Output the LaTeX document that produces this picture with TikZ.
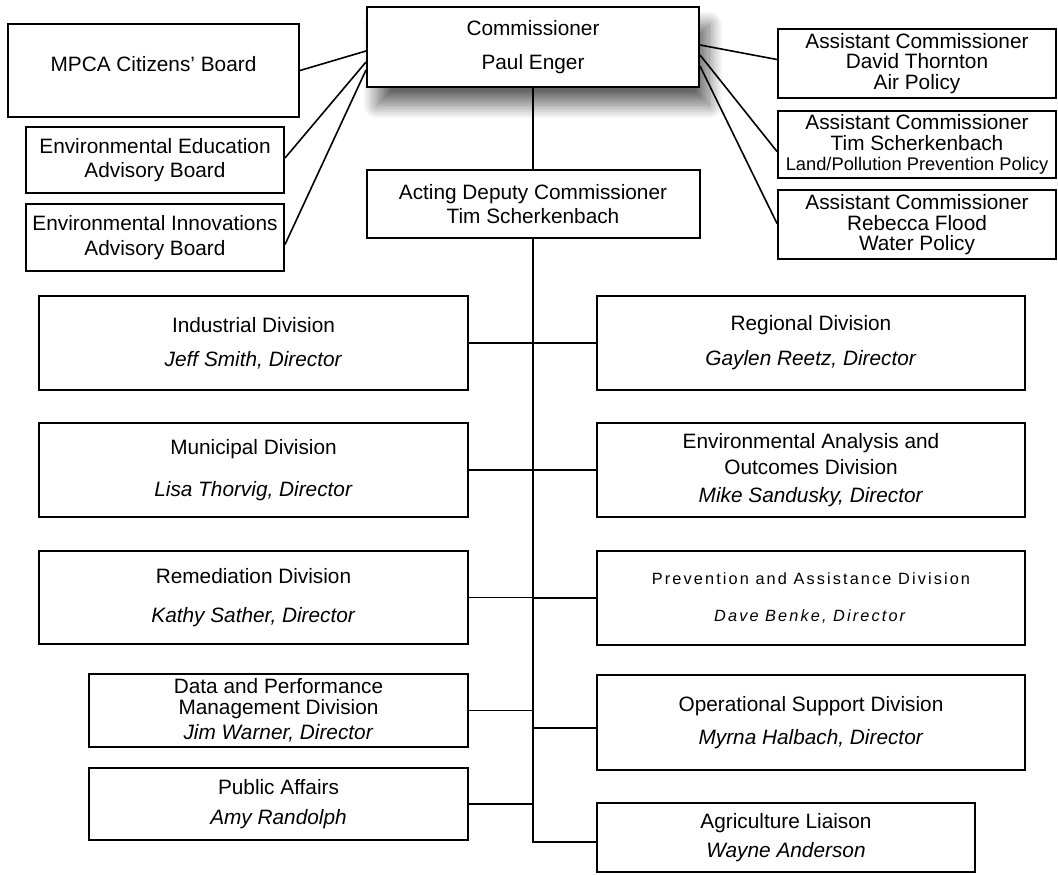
\documentclass[tikz,border=0pt]{standalone}
\usepackage{fontspec}
\setmainfont{Liberation Sans}
\newfontfamily\widefont[LetterSpace=13]{Liberation Sans}
\usepackage{tikz}
\usetikzlibrary{shadows.blur}
\tikzstyle{orgbox} = [draw=black, line width=1pt, fill=white, rectangle,
    inner sep=1pt, align=center, font=\fontsize{10.4}{11}\selectfont]
\tikzstyle{headbox} = [orgbox, blur shadow={shadow xshift=5pt,
    shadow yshift=-9pt, shadow blur radius=7pt, shadow blur steps=24,
    shadow opacity=60}]
\tikzstyle{orgline} = [draw=black, line width=0.8pt]

\begin{document}
\begin{tikzpicture}[x=0.5pt,y=-0.5pt]
    \useasboundingbox (0,0) rectangle (1058,874);
    % top
    \node[headbox, minimum width=166pt, minimum height=40pt] (comm) at (533,47)
        {Commissioner\\[6.15pt]Paul Enger};
    \node[orgbox, minimum width=166.5pt, minimum height=34pt] (acting) at (533,204)
        {Acting Deputy Commissioner\\[0.9pt]Tim Scherkenbach};
    % boards
    \node[orgbox, minimum width=145.5pt, minimum height=46.5pt,
        text height=7.6pt, text depth=6.4pt] (mpca) at (153.5,70.5)
        {MPCA Citizens' Board};
    \node[orgbox, minimum width=129pt, minimum height=33pt] (edu) at (155,160)
        {Environmental Education\\[1pt]Advisory Board};
    \node[orgbox, minimum width=129pt, minimum height=33.5pt] (innov) at (155,237.5)
        {Environmental Innovations\\[1.2pt]Advisory Board};
    % assistant commissioners
    \node[orgbox, minimum width=139pt, minimum height=34.5pt] (air) at (917,63.5)
        {Assistant Commissioner\\[-0.65pt]David Thornton\\[-0.5pt]Air Policy};
    \node[orgbox, minimum width=139pt, minimum height=33.5pt] (land) at (917,144.5)
        {Assistant Commissioner\\[-0.15pt]Tim Scherkenbach\\[-1pt]{\fontsize{9.15}{11}\selectfont Land/Pollution Prevention Policy}};
    \node[orgbox, minimum width=139pt, minimum height=34.5pt] (water) at (917,224.5)
        {Assistant Commissioner\\[-0.65pt]Rebecca Flood\\[-1pt]Water Policy};
    % left divisions
    \node[orgbox, minimum width=214.5pt, minimum height=47pt] (ind) at (253.5,343)
        {Industrial Division\\[6.2pt]\textit{Jeff Smith, Director}};
    \node[orgbox, minimum width=214.5pt, minimum height=47pt] (muni) at (253.5,470)
        {Municipal Division\\[9.85pt]\textit{Lisa Thorvig, Director}};
    \node[orgbox, minimum width=214.5pt, minimum height=46.5pt] (remed) at (253.5,597.5)
        {Remediation Division\\[8.15pt]\textit{Kathy Sather, Director}};
    \node[orgbox, minimum width=189.5pt, minimum height=36.5pt] (data) at (278.5,710.5)
        {Data and Performance\\[-0.65pt]Management Division\\[1.65pt]\textit{Jim Warner, Director}};
    \node[orgbox, minimum width=189.5pt, minimum height=36pt] (public) at (278.5,804)
        {Public Affairs\\[3.65pt]\textit{Amy Randolph}};
    % right divisions
    \node[orgbox, minimum width=214pt, minimum height=47pt] (reg) at (811,343)
        {Regional Division\\[6.5pt]\textit{Gaylen Reetz, Director}};
    \node[orgbox, minimum width=214pt, minimum height=47pt] (envan) at (811,470)
        {Environmental Analysis and\\[1.85pt]Outcomes Division\\[3.15pt]\textit{Mike Sandusky, Director}};
    \node[orgbox, minimum width=214pt, minimum height=47pt,
        font=\widefont\fontsize{8.15}{11}\selectfont] (prev) at (811,598)
        {Prevention and Assistance Division\\[7.5pt]\textit{Dave Benke, Director}};
    \node[orgbox, minimum width=214pt, minimum height=47.5pt] (oper) at (811,722.5)
        {Operational Support Division\\[5.35pt]\textit{Myrna Halbach, Director}};
    \node[orgbox, minimum width=189pt, minimum height=34.5pt] (agri) at (786,837.5)
        {Agriculture Liaison\\[3.25pt]\textit{Wayne Anderson}};

    \draw[orgline] (mpca.east) -- ([yshift=-2pt]comm.west);
    \draw[orgline] ([yshift=1pt]edu.east) -- ([yshift=-7.5pt]comm.west);
    \draw[orgline] ([yshift=-3.5pt]innov.east) -- ([yshift=-11.5pt]comm.west);
    \draw[orgline] ([yshift=1pt]comm.east) -- ([yshift=2pt]air.west);
    \draw[orgline] ([yshift=-4pt]comm.east) -- ([yshift=-3.5pt]land.west);
    \draw[orgline] ([yshift=-9.5pt]comm.east) -- ([yshift=0.5pt]water.west);

    \draw[orgline] (comm.south) -- (acting.north);
    \draw[orgline] (acting.south) |- ([yshift=-2.25pt]agri.west);
    \foreach \n in {ind,muni,remed,data,public}
        \draw[orgline] (\n.east) -- (\n.east -| acting.south);
    \foreach \n in {reg,envan,prev}
        \draw[orgline] (\n.west) -- (\n.west -| acting.south);
    \coordinate (operin) at ([yshift=-2.75pt]oper.west);
    \draw[orgline] (operin) -- (operin -| acting.south);
\end{tikzpicture}
\end{document}
